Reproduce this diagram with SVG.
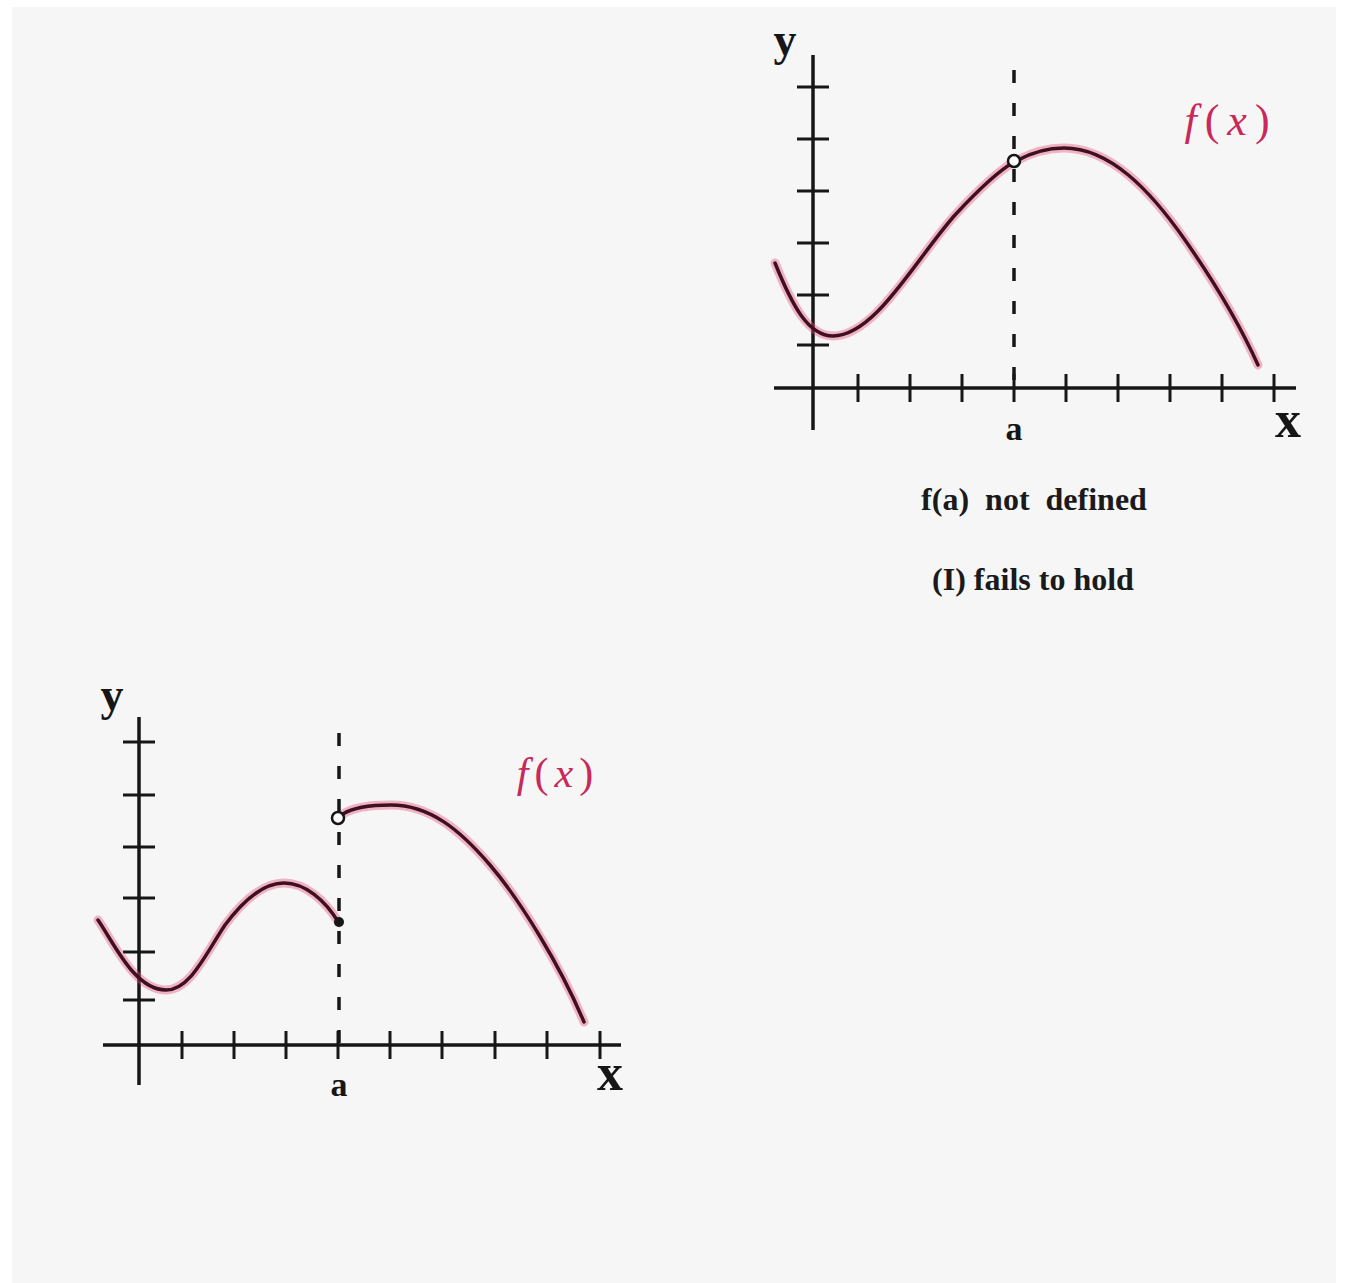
<svg xmlns="http://www.w3.org/2000/svg" width="1345" height="1283" viewBox="0 0 1345 1283">
<style>
.axis{stroke:#161616;stroke-width:3.5;fill:none;stroke-linecap:butt}
.tick{stroke:#161616;stroke-width:3;fill:none}
.dash{stroke:#161616;stroke-width:3.5;fill:none;stroke-dasharray:13 20}
.halo{stroke:#e8507a;stroke-opacity:0.4;stroke-width:9;fill:none;stroke-linecap:round}
.curve{stroke:#3f0f22;stroke-width:3.5;fill:none;stroke-linecap:round}
.lbl{font-family:"Liberation Serif","DejaVu Serif",serif;font-weight:bold;fill:#161616}
.fx{font-family:"Liberation Serif","DejaVu Serif",serif;font-style:italic;fill:#c8285a}
.cap{font-family:"Liberation Serif","DejaVu Serif",serif;font-weight:bold;fill:#1a1a1a;font-size:32px}
.open{fill:#ffffff;stroke:#161616;stroke-width:2.5}
</style>
<rect x="0" y="0" width="1345" height="1283" fill="#ffffff"/>
<rect x="12" y="7" width="1324" height="1276" fill="#f6f6f6"/>

<g id="graph-top">
  <g id="graph-top-axes">
    <line class="axis" x1="813" y1="55" x2="813" y2="430"/>
    <line class="axis" x1="774" y1="388" x2="1296" y2="388"/>
    <path class="tick" d="M797,87H829M797,139H829M797,191H829M797,243H829M797,295H829M797,345H829"/>
    <path class="tick" d="M858,374V402M910,374V402M962,374V402M1014,374V402M1066,374V402M1118,374V402M1170,374V402M1222,374V402M1274,374V402"/>
    <line class="dash" x1="1014" y1="70" x2="1014" y2="392"/>
  </g>
  <path class="halo" d="M775,263 C792,305 808,336 833,336 C875,336 915,260 955,215 C980,188 1000,170 1014,162 C1030,153 1045,148 1064,148 C1110,148 1150,190 1185,240 C1215,283 1240,325 1258,365"/>
  <path class="curve" d="M775,263 C792,305 808,336 833,336 C875,336 915,260 955,215 C980,188 1000,170 1014,162 C1030,153 1045,148 1064,148 C1110,148 1150,190 1185,240 C1215,283 1240,325 1258,365"/>
  <circle class="open" cx="1014" cy="161" r="6"/>
  <text class="lbl" x="785" y="55" font-size="46" text-anchor="middle">y</text>
  <text class="lbl" x="1288" y="437" font-size="52" text-anchor="middle">x</text>
  <text class="lbl" x="1014" y="440" font-size="34" text-anchor="middle">a</text>
  <text class="fx" x="1231" y="135" font-size="44" letter-spacing="8" text-anchor="middle">f<tspan font-style="normal">(</tspan>x<tspan font-style="normal">)</tspan></text>
</g>

<g id="caption">
  <text class="cap" x="1034" y="510" text-anchor="middle" xml:space="preserve">f(a)  not  defined</text>
  <text class="cap" x="1033" y="590" text-anchor="middle">(I) fails to hold</text>
</g>

<g id="graph-bottom">
  <g id="graph-bottom-axes">
    <line class="axis" x1="139" y1="717" x2="139" y2="1085"/>
    <line class="axis" x1="103" y1="1045" x2="621" y2="1045"/>
    <path class="tick" d="M123,742H155M123,795H155M123,847H155M123,898H155M123,952H155M123,1000H155"/>
    <path class="tick" d="M182,1031V1059M234,1031V1059M286,1031V1059M338,1031V1059M390,1031V1059M442,1031V1059M495,1031V1059M547,1031V1059M600,1031V1059"/>
    <line class="dash" x1="339" y1="733" x2="339" y2="1048"/>
  </g>
  <path class="halo" d="M98,920 C115,945 135,990 166,990 C190,990 205,955 225,925 C245,898 265,883 284,883 C305,883 325,900 339,923"/>
  <path class="curve" d="M98,920 C115,945 135,990 166,990 C190,990 205,955 225,925 C245,898 265,883 284,883 C305,883 325,900 339,923"/>
  <path class="halo" d="M343,814 C355,806 375,805 391,805 C430,805 460,830 490,865 C520,900 560,965 584,1022"/>
  <path class="curve" d="M343,814 C355,806 375,805 391,805 C430,805 460,830 490,865 C520,900 560,965 584,1022"/>
  <circle class="open" cx="338" cy="818" r="6"/>
  <circle cx="339" cy="922" r="5" fill="#161616"/>
  <text class="lbl" x="112" y="710" font-size="46" text-anchor="middle">y</text>
  <text class="lbl" x="610" y="1090" font-size="52" text-anchor="middle">x</text>
  <text class="lbl" x="339" y="1096" font-size="34" text-anchor="middle">a</text>
  <text class="fx" x="558" y="787" font-size="42" letter-spacing="6" text-anchor="middle">f<tspan font-style="normal">(</tspan>x<tspan font-style="normal">)</tspan></text>
</g>
</svg>
